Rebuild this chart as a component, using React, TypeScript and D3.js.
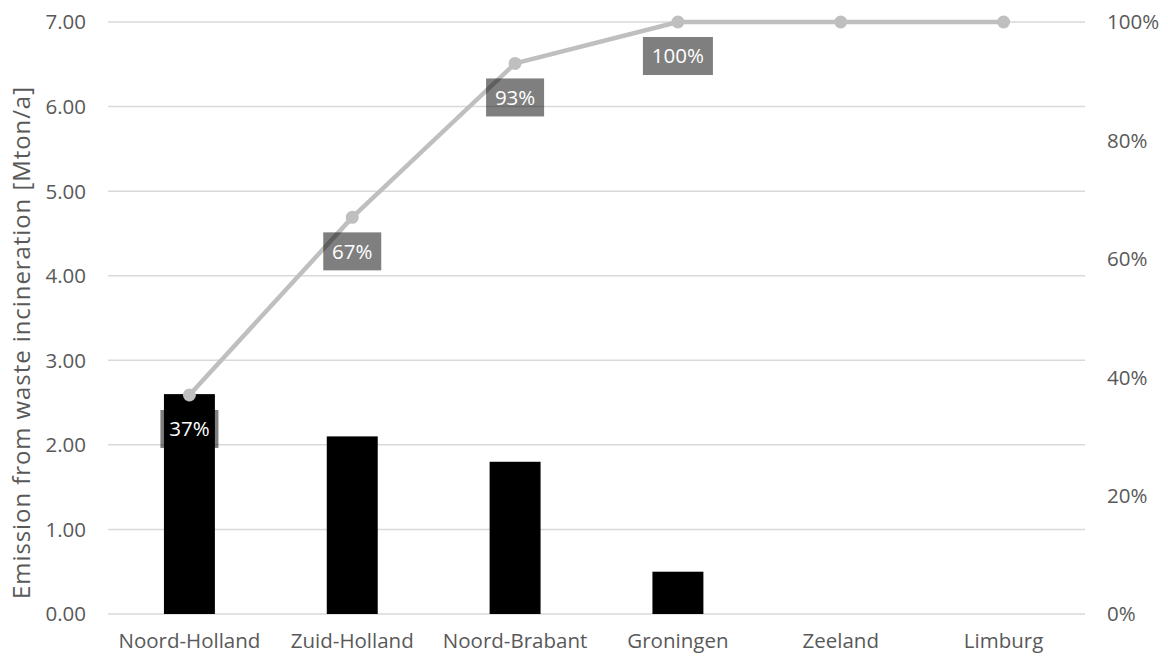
import React from "react";
import * as d3 from "d3";

// Emission from waste incineration per province, with cumulative share
const provinces = ["Noord-Holland", "Zuid-Holland", "Noord-Brabant", "Groningen", "Zeeland", "Limburg"];
const emissions = [2.6, 2.1, 1.8, 0.5, 0, 0];
const cumulativeShare = [37, 67, 93, 100, 100, 100];
const leftTicks = [0, 1, 2, 3, 4, 5, 6, 7];
const rightTicks = [0, 20, 40, 60, 80, 100];

const W = 1168;
const H = 658;
const M = { left: 108, right: 83, top: 22, bottom: 44 };
const FONT = "'Open Sans', 'DejaVu Sans', sans-serif";
const FS = 20.5;

export default function App() {
  const plotW = W - M.left - M.right;
  const plotH = H - M.top - M.bottom;

  const x = d3.scaleBand<string>().domain(provinces).range([M.left, M.left + plotW]).paddingInner(0.687).paddingOuter(0.3435);
  const xc = d3.scaleBand<string>().domain(provinces).range([M.left, M.left + plotW]);
  const yL = d3.scaleLinear().domain([0, 7]).range([M.top + plotH, M.top]);
  const yR = d3.scaleLinear().domain([0, 100]).range([M.top + plotH, M.top]);

  const cx = (p: string) => (xc(p) ?? 0) + xc.bandwidth() / 2;
  const line = d3
    .line<number>()
    .x((_, i) => cx(provinces[i]))
    .y((d) => yR(d));

  return (
    <svg width={W} height={H} style={{ position: "absolute", left: 0, top: 0, background: "#fff" }}>
      {/* gridlines */}
      {leftTicks.map((t) => (
        <line key={t} x1={M.left} x2={M.left + plotW} y1={yL(t)} y2={yL(t)} stroke="#d9d9d9" strokeWidth={1.5} />
      ))}
      {/* left axis labels */}
      {leftTicks.map((t) => (
        <text key={"l" + t} x={86} y={yL(t)} dy="0.36em" textAnchor="end" fontFamily={FONT} fontSize={FS} fill="#595959">
          {d3.format(".2f")(t)}
        </text>
      ))}
      {/* right axis labels */}
      {rightTicks.map((t) => (
        <text key={"r" + t} x={1107} y={yR(t)} dy="0.36em" textAnchor="start" fontFamily={FONT} fontSize={FS} fill="#595959">
          {t + "%"}
        </text>
      ))}
      {/* category labels */}
      {provinces.map((p) => (
        <text key={"c" + p} x={cx(p)} y={641} dy="0.36em" textAnchor="middle" fontFamily={FONT} fontSize={FS} fill="#595959">
          {p}
        </text>
      ))}
      {/* axis title */}
      <text
        transform={`translate(21, ${M.top + plotH / 2 + 25}) rotate(-90)`}
        dy="0.36em"
        textAnchor="middle"
        fontFamily={FONT}
        fontSize={24}
        fill="#595959"
        textLength={512}
        lengthAdjust="spacing"
      >
        Emission from waste incineration [Mton/a]
      </text>
      {/* bars */}
      {provinces.map((p, i) => (
        <rect key={"b" + p} x={x(p)} y={yL(emissions[i])} width={x.bandwidth()} height={yL(0) - yL(emissions[i])} fill="#000" />
      ))}
      {/* cumulative line */}
      <path d={line(cumulativeShare) ?? ""} fill="none" stroke="#bfbfbf" strokeWidth={4.5} strokeLinejoin="round" />
      {cumulativeShare.map((v, i) => (
        <circle key={"m" + i} cx={cx(provinces[i])} cy={yR(v)} r={6.5} fill="#bfbfbf" />
      ))}
      {/* data labels */}
      {cumulativeShare.map((v, i) => {
        if (emissions[i] <= 0) return null;
        const label = v + "%";
        const w = label.length === 4 ? 70 : 58;
        const px = cx(provinces[i]);
        const top = yR(v) + 15;
        return (
          <g key={"d" + i}>
            <rect x={px - w / 2} y={top} width={w} height={38} fill="#000" fillOpacity={0.5} />
            <text x={px} y={top + 19} dy="0.36em" textAnchor="middle" fontFamily={FONT} fontSize={FS} fill="#fff">
              {label}
            </text>
          </g>
        );
      })}
    </svg>
  );
}
